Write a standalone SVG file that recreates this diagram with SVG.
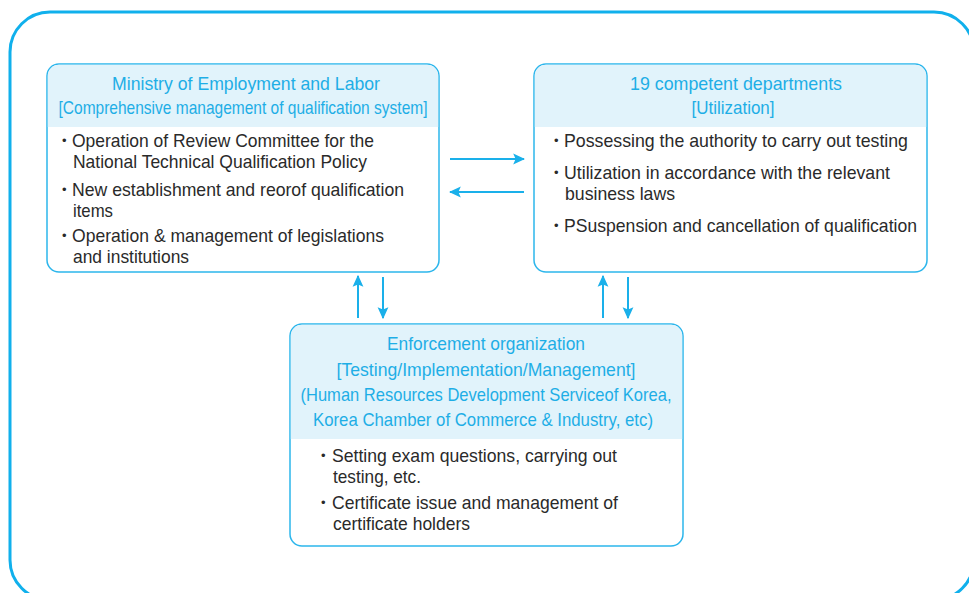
<svg xmlns="http://www.w3.org/2000/svg" width="969" height="593" viewBox="0 0 969 593">
  <style>
    .frame { fill: none; stroke: #10b0ec; stroke-width: 3; }
    .box { fill: #ffffff; stroke: #2cb6ec; stroke-width: 1.5; }
    .head { fill: #e1f3fb; }
    .title { font-family: "Liberation Sans", Arial, sans-serif; font-size: 19px; fill: #1eaee6; text-anchor: middle; }
    .body { font-family: "Liberation Sans", Arial, sans-serif; font-size: 19px; fill: #2a2a2a; }
    .dot { font-family: "Liberation Sans", Arial, sans-serif; font-size: 13px; fill: #2a2a2a; }
    .link { stroke: #1ab0ea; stroke-width: 2; fill: none; marker-end: url(#arrow); }
  </style>
  <defs>
    <marker id="arrow" viewBox="0 0 10 10" refX="9" refY="5" markerWidth="6" markerHeight="6" orient="auto" markerUnits="strokeWidth">
      <path d="M0,0.5 L10,5 L0,9.5 L2,5 Z" fill="#1ab0ea"/>
    </marker>
  </defs>

  <rect width="969" height="593" fill="#ffffff"/>

  <!-- outer frame -->
  <rect class="frame" x="10" y="12" width="964" height="588" rx="40" ry="40"/>

  <!-- Ministry of Employment and Labor -->
  <g id="ministry">
    <rect class="box" x="47" y="64" width="392" height="208" rx="12" ry="12"/>
    <path class="head" d="M47.8,127 V76 A11.2,11.2 0 0 1 59,64.8 H427 A11.2,11.2 0 0 1 438.2,76 V127 Z"/>
    <text class="title" x="246" y="90" textLength="268" lengthAdjust="spacingAndGlyphs">Ministry of Employment and Labor</text>
    <text class="title" x="243" y="114" textLength="369" lengthAdjust="spacingAndGlyphs">[Comprehensive management of qualification system]</text>
    <text class="dot" x="62" y="145">•</text>
    <text class="body" x="72" y="147" textLength="302" lengthAdjust="spacingAndGlyphs">Operation of Review Committee for the</text>
    <text class="body" x="73" y="168" textLength="294" lengthAdjust="spacingAndGlyphs">National Technical Qualification Policy</text>
    <text class="dot" x="62" y="194">•</text>
    <text class="body" x="72" y="196" textLength="332" lengthAdjust="spacingAndGlyphs">New establishment and reorof qualification</text>
    <text class="body" x="73" y="217" textLength="40" lengthAdjust="spacingAndGlyphs">items</text>
    <text class="dot" x="62" y="240">•</text>
    <text class="body" x="72" y="242" textLength="312" lengthAdjust="spacingAndGlyphs">Operation &amp; management of legislations</text>
    <text class="body" x="73" y="263" textLength="116" lengthAdjust="spacingAndGlyphs">and institutions</text>
  </g>

  <!-- 19 competent departments -->
  <g id="departments">
    <rect class="box" x="534" y="64" width="393" height="208" rx="12" ry="12"/>
    <path class="head" d="M534.8,127 V76 A11.2,11.2 0 0 1 546,64.8 H915 A11.2,11.2 0 0 1 926.2,76 V127 Z"/>
    <text class="title" x="736" y="90" textLength="212" lengthAdjust="spacingAndGlyphs">19 competent departments</text>
    <text class="title" x="733" y="114" textLength="83" lengthAdjust="spacingAndGlyphs">[Utilization]</text>
    <text class="dot" x="554" y="145">•</text>
    <text class="body" x="564" y="147" textLength="344" lengthAdjust="spacingAndGlyphs">Possessing the authority to carry out testing</text>
    <text class="dot" x="554" y="177">•</text>
    <text class="body" x="564" y="179" textLength="326" lengthAdjust="spacingAndGlyphs">Utilization in accordance with the relevant</text>
    <text class="body" x="565" y="200" textLength="110" lengthAdjust="spacingAndGlyphs">business laws</text>
    <text class="dot" x="554" y="230">•</text>
    <text class="body" x="564" y="232" textLength="353" lengthAdjust="spacingAndGlyphs">PSuspension and cancellation of qualification</text>
  </g>

  <!-- Enforcement organization -->
  <g id="enforcement">
    <rect class="box" x="290" y="324" width="393" height="222" rx="12" ry="12"/>
    <path class="head" d="M290.8,439 V336 A11.2,11.2 0 0 1 302,324.8 H671 A11.2,11.2 0 0 1 682.2,336 V439 Z"/>
    <text class="title" x="486" y="350" textLength="198" lengthAdjust="spacingAndGlyphs">Enforcement organization</text>
    <text class="title" x="486" y="376" textLength="299" lengthAdjust="spacingAndGlyphs">[Testing/Implementation/Management]</text>
    <text class="title" x="486" y="401" textLength="371" lengthAdjust="spacingAndGlyphs">(Human Resources Development Serviceof Korea,</text>
    <text class="title" x="483" y="426" textLength="340" lengthAdjust="spacingAndGlyphs">Korea Chamber of Commerce &amp; Industry, etc)</text>
    <text class="dot" x="321" y="460">•</text>
    <text class="body" x="332" y="462" textLength="285" lengthAdjust="spacingAndGlyphs">Setting exam questions, carrying out</text>
    <text class="body" x="333" y="483" textLength="88" lengthAdjust="spacingAndGlyphs">testing, etc.</text>
    <text class="dot" x="321" y="507">•</text>
    <text class="body" x="332" y="509" textLength="286" lengthAdjust="spacingAndGlyphs">Certificate issue and management of</text>
    <text class="body" x="333" y="530" textLength="137" lengthAdjust="spacingAndGlyphs">certificate holders</text>
  </g>

  <!-- connectors -->
  <g id="connectors">
    <line class="link" x1="450" y1="159" x2="524" y2="159"/>
    <line class="link" x1="524" y1="192" x2="450" y2="192"/>
    <line class="link" x1="358" y1="318" x2="358" y2="276"/>
    <line class="link" x1="383" y1="277" x2="383" y2="318"/>
    <line class="link" x1="603" y1="318" x2="603" y2="276"/>
    <line class="link" x1="628" y1="277" x2="628" y2="318"/>
  </g>
</svg>
